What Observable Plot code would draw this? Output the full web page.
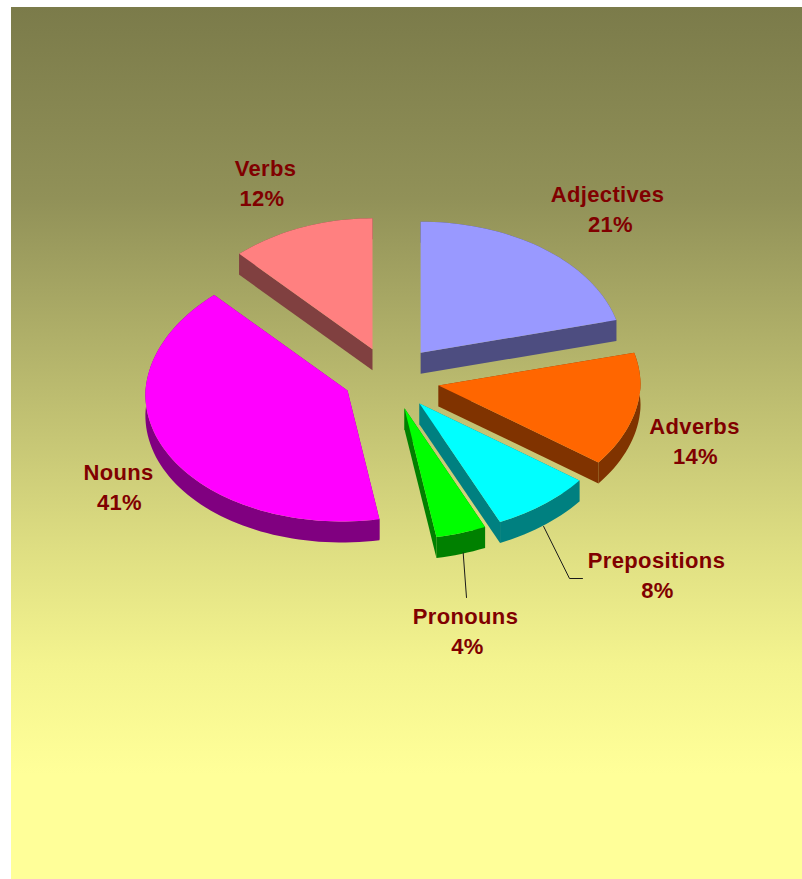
<!DOCTYPE html>
<html>
<head>
<meta charset="utf-8">
<script src="https://cdn.jsdelivr.net/npm/d3@7"></script>
<script src="https://cdn.jsdelivr.net/npm/@observablehq/plot@0.6"></script>
<style>
  html, body { margin: 0; padding: 0; background: #fff; }
  svg { display: block; }
  svg text { letter-spacing: 0.35px; }
</style>
</head>
<body>
<div id="chart"></div>
<script>
// Parts of speech, clockwise from twelve o'clock.
const categories = ["Adjectives", "Adverbs", "Prepositions", "Pronouns", "Nouns", "Verbs"];
const shares = [21, 14, 8, 4, 41, 12];
const topColors = ["#9999ff", "#ff6600", "#00ffff", "#00ff00", "#ff00ff", "#ff8080"];
const wallColors = ["#4d4d80", "#803300", "#008080", "#008000", "#800080", "#804040"];
const nameAnchors = [[607, 194], [694, 426], [656, 560], [465, 616], [118, 472], [265, 168]];
const shareAnchors = [[610, 224], [695, 456], [657, 590], [467, 646], [119, 502], [261.5, 198]];
const leaderElbows = { Prepositions: [[569, 578], [582, 578]], Pronouns: [[466, 597]] };
const leaderNudge = { Prepositions: [0, 1], Pronouns: [2, -1] };

// Tilted pie geometry, in page pixels.
const W = 802, H = 879;
const centre = [390, 378], rx = 202, ry = 131, depth = 21;
const explodeX = 47.5, explodeY = 31.4;
const apexNudge = [[1, -1], [1.4, 1], [-1.3, 0.8], [-0.7, 0], [-0.7, -2.3], [-0.5, 0]];

const arcs = d3.pie().sort(null).value((d) => d)(shares);

// The rim is not a true ellipse: the projection pulls it in on the near and far-left sides.
function onRim(apex, angle) {
  const s = Math.sin(angle), c = Math.cos(angle);
  const pull = c < 0 ? 6 * c : s < 0 ? -10 * s * c : 0;
  return [apex[0] + rx * s + pull, apex[1] - ry * c];
}

const slices = categories.map((name, i) => {
  const { startAngle, endAngle } = arcs[i];
  const mid = (startAngle + endAngle) / 2;
  const apex = [
    centre[0] + explodeX * Math.sin(mid) + apexNudge[i][0],
    centre[1] - explodeY * Math.cos(mid) + apexNudge[i][1]
  ];
  const steps = Math.max(6, Math.round((endAngle - startAngle) * 30));
  const rim = d3.range(steps + 1).map((s) => onRim(apex, startAngle + ((endAngle - startAngle) * s) / steps));
  return { name, i, mid, apex, rim };
});

const lower = ([x, y]) => [x, y + depth];

function rows(id, color, points) {
  return points.map(([x, y]) => ({ id, x, y, color }));
}

// Slice faces, and for each slice its two radial walls and one wall along the rim.
const topRows = slices.flatMap((s) =>
  rows(s.name, topColors[s.i], [s.apex, ...s.rim])
);
const wallRows = slices.flatMap((s) => {
  const c = wallColors[s.i];
  const first = s.rim[0], last = s.rim[s.rim.length - 1];
  return [
    ...rows(`${s.name}-start`, c, [s.apex, first, lower(first), lower(s.apex)]),
    ...rows(`${s.name}-end`, c, [s.apex, last, lower(last), lower(s.apex)]),
    ...rows(`${s.name}-rim`, c, [...s.rim, ...s.rim.map(lower).reverse()])
  ];
});

const leaderRows = slices
  .filter((s) => leaderElbows[s.name])
  .flatMap((s) => {
    const [x0, y0] = onRim(s.apex, s.mid);
    const [dx, dy] = leaderNudge[s.name];
    return [[x0 + dx, y0 + depth + dy], ...leaderElbows[s.name]].map(([x, y]) => ({ id: s.name, x, y }));
  });

const labelRows = categories.flatMap((name, i) => [
  { x: nameAnchors[i][0], y: nameAnchors[i][1], text: name },
  { x: shareAnchors[i][0], y: shareAnchors[i][1], text: `${shares[i]}%` }
]);

const backdrop = () => {
  const defs = d3.create("svg:defs");
  const g = defs.append("linearGradient")
    .attr("id", "panel-shade").attr("x1", 0).attr("y1", 0).attr("x2", 0).attr("y2", 1);
  [[0, "#7b7b4a"], [0.22, "#919158"], [0.62, "#dede82"], [0.755, "#f4f48f"], [0.88, "#ffff99"], [1, "#ffff99"]]
    .forEach(([offset, color]) => g.append("stop").attr("offset", offset).attr("stop-color", color));
  return defs.node();
};

const chart = Plot.plot({
  width: W,
  height: H,
  margin: 0,
  x: { type: "identity", axis: null },
  y: { type: "identity", axis: null },
  color: { type: "identity" },
  style: { background: "#fff", fontFamily: "'Liberation Sans', Arial, sans-serif" },
  marks: [
    backdrop,
    Plot.rect([{ x1: 11, x2: W, y1: 7, y2: H }], {
      x1: "x1", x2: "x2", y1: "y1", y2: "y2", fill: "url(#panel-shade)"
    }),
    Plot.line(wallRows, { x: "x", y: "y", z: "id", fill: "color", stroke: null }),
    Plot.line(topRows, { x: "x", y: "y", z: "id", fill: "color", stroke: null }),
    Plot.line(leaderRows, { x: "x", y: "y", z: "id", stroke: "#1a1a1a", strokeWidth: 1 }),
    Plot.text(labelRows, {
      x: "x", y: "y", text: "text", fill: "#800000",
      fontSize: 22, fontWeight: "bold", textAnchor: "middle", lineAnchor: "middle"
    })
  ]
});
document.getElementById("chart").appendChild(chart);
</script>
</body>
</html>
